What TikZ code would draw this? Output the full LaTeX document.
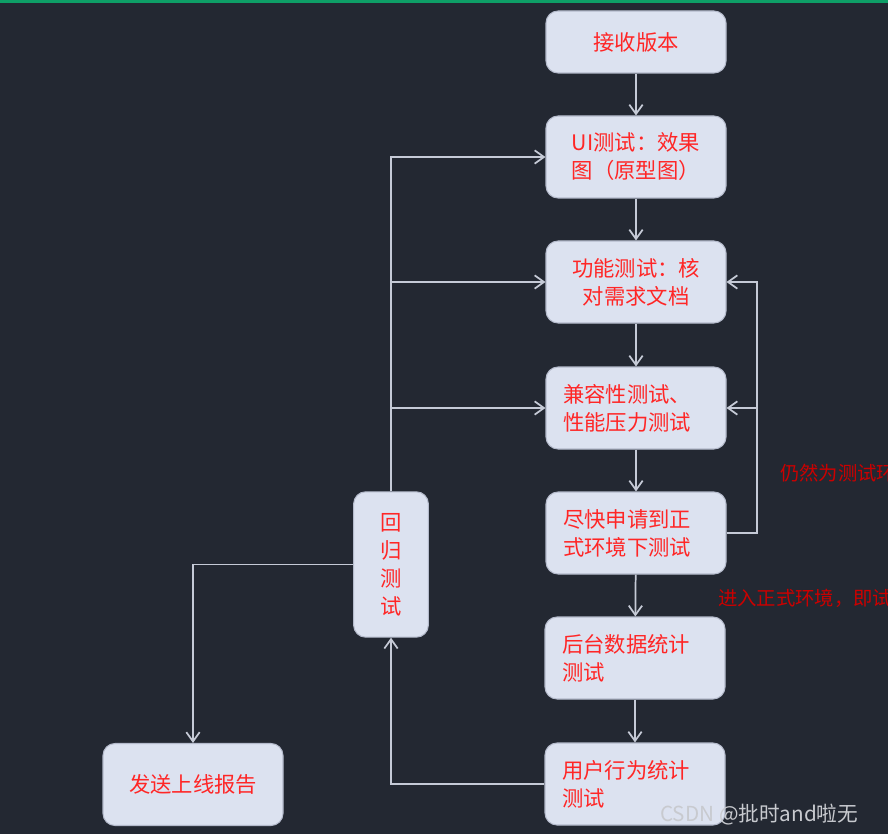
\documentclass[tikz,border=0pt]{standalone}
\usepackage{fontspec}
\setmainfont{Noto Sans CJK SC}
\usetikzlibrary{arrows.meta}

\definecolor{sfondo}{HTML}{232832}
\definecolor{verde}{HTML}{0E9F67}
\definecolor{riempimento}{HTML}{DCE2F0}
\definecolor{bordo}{HTML}{B4BACB}
\definecolor{rosso}{HTML}{FF2626}
\definecolor{rossoscuro}{HTML}{CC0000}
\definecolor{linea}{HTML}{C5CAD6}
\definecolor{filigrana}{HTML}{C8CACF}

\tikzset{
	scatola/.style={draw=bordo, line width=0.8pt, fill=riempimento, rounded corners=9pt,
		text=rosso, font=\fontsize{16}{21}\selectfont, align=left,
		minimum width=135pt, minimum height=61.5pt, inner sep=0pt},
	sinistra/.style={text width=109.5pt, inner xsep=12.75pt},
	freccia/.style={draw=linea, line width=1.3pt, -{Straight Barb[length=7pt,width=10pt]}},
	nota/.style={text=rossoscuro, font=\fontsize{14.5}{18}\selectfont, anchor=west, inner sep=0pt}
}

\begin{document}
\begin{tikzpicture}[x=0.75pt, y=-0.75pt]
				% Sfondo
				\clip (0,0) rectangle (888,834);
				\fill[sfondo] (0,0) rectangle (888,834);
				\fill[verde] (0,0) rectangle (888,3);
				
				% Colonna principale
				\node[scatola, align=center, minimum height=46.5pt] (ricevi) at (636,42) {接收版本};
				\node[scatola] (ui) at (636,157) {UI测试：效果\\图（原型图）};
				\node[scatola, align=center] (funz) at (636,282) {功能测试：核\\对需求文档};
				\node[scatola, sinistra] (compat) at (636,408) {兼容性测试、\\性能压力测试};
				\node[scatola, sinistra] (formale) at (636,533) {尽快申请到正\\式环境下测试};
				\node[scatola, sinistra] (dati) at (635,658) {后台数据统计\\测试};
				\node[scatola, sinistra] (utente) at (635,784) {用户行为统计\\测试};
				
				% Regressione e rapporto
				\node[scatola, align=center, minimum width=56pt, minimum height=109pt] (regr) at (391,564.5) {回\\归\\测\\试};
				\node[scatola, align=center] (rapporto) at (193,784.5) {发送上线报告};
				
				% Frecce verticali
				\draw[freccia] (ricevi) -- (ui);
				\draw[freccia] (ui) -- (funz);
				\draw[freccia] (funz) -- (compat);
				\draw[freccia] (compat) -- (formale);
				\draw[freccia] (formale) -- (dati);
				\draw[freccia] (dati) -- (utente);
				
				% Ritorni
				\draw[freccia] (regr.north) |- (ui.west);
				\draw[freccia] (regr.north) |- (funz.west);
				\draw[freccia] (regr.north) |- (compat.west);
				\draw[freccia] (regr.west) -| (rapporto.north);
				\draw[freccia] (utente.west) -| (regr.south);
				\coordinate (giro) at (757,533);
				\draw[freccia] (formale.east) -- (giro) |- (funz.east);
				\draw[freccia] (giro) |- (compat.east);
				
				% Note
				\node[nota] (nota1) at (780,473) {仍然为测试环境};
				\node[nota] (nota2) at (718,598) {进入正式环境，即试};
				\node[anchor=west, inner sep=0pt, text=filigrana, font=\fontsize{15.5}{18}\selectfont] (firma) at (660,815) {CSDN @批时and啦无};
			\end{tikzpicture}
\end{document}
